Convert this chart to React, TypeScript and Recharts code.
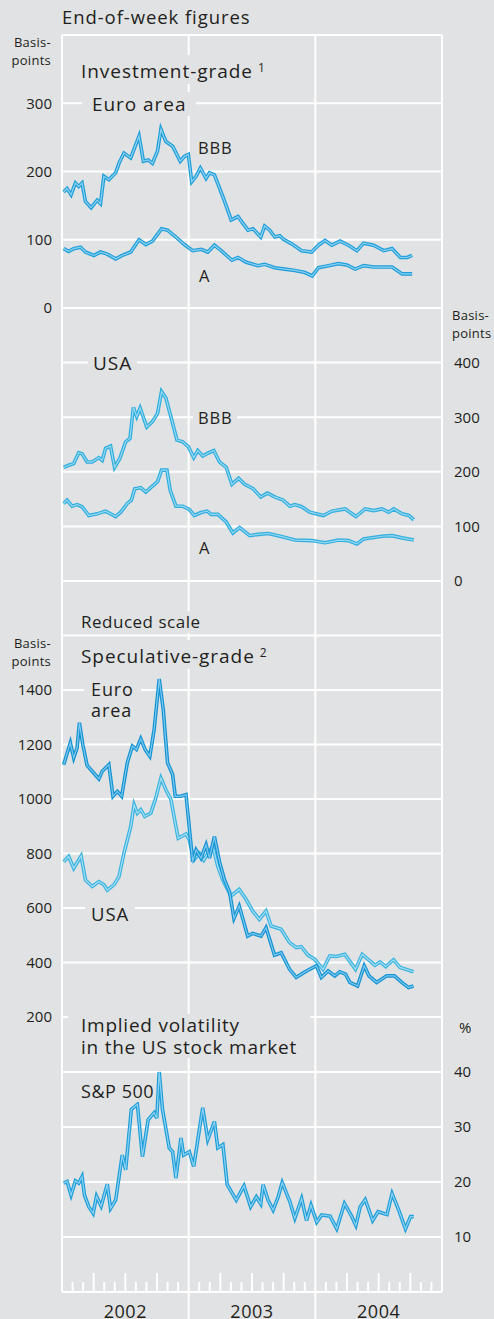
import React from "react";
import { LineChart, Line, XAxis, YAxis, CartesianGrid, ReferenceLine } from "recharts";

// x values are months since the start of 2002
const yearLabels = ["2002", "2003", "2004"];
const yearLines = [0, 12, 24, 36];
const monthTicks = Array.from({ length: 37 }, (_, i) => i);

const euroBBB: [number, number][] = [
  [0.16, 170], [0.48, 175], [0.86, 166], [1.27, 183], [1.59, 178], [1.9, 183], [2.22, 156], [2.76, 147],
  [3.33, 158], [3.65, 153], [3.97, 193], [4.44, 188], [5.08, 198], [5.4, 212], [5.87, 227], [6.51, 220],
  [7.3, 252], [7.71, 215], [8.16, 217], [8.57, 212], [9.05, 230], [9.37, 262], [9.84, 244], [10.48, 237],
  [11.2, 215], [11.59, 222], [11.97, 225], [12.29, 185], [12.7, 193], [13.11, 205], [13.65, 190], [13.97, 198],
  [14.44, 195], [15.24, 163], [16.03, 129], [16.67, 134], [17.14, 124], [17.62, 114], [18.1, 116], [18.83, 104],
  [19.2, 120], [19.68, 114], [20.16, 104], [20.63, 106], [20.95, 101], [21.75, 94], [22.7, 84], [23.65, 82],
  [24.29, 92], [24.92, 99], [25.56, 92], [26.35, 98], [27.14, 92], [27.94, 84], [28.57, 95], [29.52, 92],
  [30.48, 84], [31.27, 87], [32.06, 74], [32.7, 74], [33.17, 77],
];
const euroA: [number, number][] = [
  [0.16, 87], [0.63, 83], [1.11, 87], [1.75, 89], [2.22, 82], [3.02, 77], [3.65, 82], [4.29, 79],
  [5.08, 72], [5.71, 77], [6.51, 82], [7.3, 100], [7.94, 93], [8.57, 98], [9.43, 116], [10, 114],
  [10.79, 104], [11.59, 93], [12.38, 84], [13.17, 86], [13.81, 82], [14.44, 92], [15.08, 84], [16.1, 70],
  [16.67, 74], [17.46, 67], [18.57, 62], [19.2, 64], [20.16, 59], [21.11, 57], [22.06, 55], [23.02, 52],
  [23.71, 47], [24.29, 59], [25.24, 62], [26.19, 65], [26.98, 63], [27.78, 57], [28.57, 62], [29.52, 60],
  [30.48, 60], [31.27, 60], [32.22, 50], [33.17, 50],
];
const usBBB: [number, number][] = [
  [0.16, 208], [0.63, 212], [1.11, 215], [1.59, 235], [1.9, 233], [2.38, 218], [2.86, 218], [3.49, 226],
  [3.81, 221], [4.13, 243], [4.6, 247], [4.98, 208], [5.49, 225], [6.03, 255], [6.44, 261], [6.76, 318],
  [7.08, 301], [7.4, 317], [8.03, 282], [8.57, 292], [9.05, 307], [9.43, 347], [9.84, 335], [10.48, 289],
  [10.89, 258], [11.43, 255], [11.97, 246], [12.48, 226], [12.86, 239], [13.33, 229], [13.81, 234], [14.38, 239],
  [14.92, 218], [15.56, 208], [16.1, 177], [16.73, 188], [17.3, 177], [18.1, 169], [18.83, 154], [19.46, 161],
  [20.16, 154], [20.95, 148], [21.59, 137], [22.06, 140], [22.7, 136], [23.49, 126], [24.76, 120], [25.56, 128],
  [26.83, 132], [27.84, 118], [28.73, 132], [29.52, 129], [30.32, 132], [30.95, 126], [31.43, 132], [32.22, 123],
  [32.86, 120], [33.33, 112],
];
const usA: [number, number][] = [
  [0.16, 142], [0.48, 148], [0.95, 137], [1.43, 140], [1.9, 136], [2.54, 120], [3.33, 123], [4.13, 128],
  [5.08, 118], [5.56, 126], [6.19, 142], [6.57, 148], [6.89, 169], [7.46, 171], [7.94, 163], [8.41, 171],
  [9.05, 182], [9.43, 203], [9.94, 203], [10.25, 166], [10.79, 137], [11.43, 137], [12.06, 131], [12.54, 120],
  [13.11, 125], [13.75, 128], [14.13, 122], [14.76, 122], [15.56, 108], [16.19, 88], [16.83, 98], [17.78, 83],
  [18.41, 85], [19.52, 87], [20.48, 83], [22.06, 75], [23.65, 74], [24.92, 70], [26.19, 75], [27.14, 74],
  [27.94, 68], [28.57, 77], [30.32, 82], [31.27, 83], [32.22, 79], [33.33, 75],
];
const specEuro: [number, number][] = [
  [0.16, 1126], [0.79, 1206], [1.11, 1151], [1.43, 1188], [1.65, 1280], [1.97, 1200], [2.38, 1123], [2.86, 1102],
  [3.49, 1074], [3.81, 1102], [4.44, 1126], [4.83, 1010], [5.24, 1028], [5.65, 1010], [6.19, 1133], [6.67, 1194],
  [7.05, 1182], [7.46, 1221], [7.87, 1182], [8.32, 1157], [8.73, 1255], [9.21, 1440], [9.59, 1329], [10, 1133],
  [10.48, 1090], [10.73, 1010], [11.27, 1010], [11.75, 1016], [12.38, 770], [12.7, 813], [13.17, 783], [13.65, 832],
  [13.97, 783], [14.44, 862], [14.92, 770], [15.4, 703], [15.87, 660], [16.29, 562], [16.79, 607], [17.59, 497],
  [18.06, 507], [18.86, 497], [19.33, 528], [20.13, 427], [20.76, 436], [21.56, 375], [22.19, 345], [22.83, 361],
  [23.46, 375], [24.1, 388], [24.57, 345], [25.21, 369], [25.84, 351], [26.32, 366], [26.86, 357], [27.27, 327],
  [28, 314], [28.63, 388], [29.08, 351], [29.81, 327], [30.76, 351], [31.49, 351], [32.19, 327], [32.83, 308],
  [33.3, 314],
];
const specUSA: [number, number][] = [
  [0.16, 770], [0.63, 789], [1.11, 746], [1.81, 791], [2.22, 703], [2.86, 679], [3.49, 697], [3.97, 685],
  [4.29, 666], [4.92, 685], [5.4, 715], [5.87, 801], [6.51, 899], [6.83, 979], [7.14, 948], [7.46, 961],
  [7.84, 936], [8.41, 948], [8.89, 1004], [9.37, 1077], [9.84, 1034], [10.32, 998], [10.79, 899], [11.01, 856],
  [11.75, 872], [12.06, 850], [12.48, 776], [13.02, 801], [13.43, 776], [13.81, 801], [14.29, 826], [14.76, 752],
  [15.24, 703], [16, 644], [16.79, 668], [17.43, 632], [18.06, 589], [18.7, 558], [19.33, 589], [19.81, 534],
  [20.76, 522], [21.56, 473], [22.19, 455], [22.67, 458], [23.3, 427], [23.94, 412], [24.73, 375], [25.37, 424],
  [26, 422], [26.79, 430], [27.81, 375], [28.44, 430], [29.65, 390], [30.13, 402], [30.67, 385], [31.4, 410],
  [32.03, 382], [33.3, 366],
];
const vix: [number, number][] = [
  [0.16, 19.8], [0.48, 20.1], [0.86, 17.6], [1.27, 20.2], [1.59, 19.8], [1.9, 21], [2.13, 17.6], [2.54, 15.5],
  [2.95, 14.3], [3.27, 17.4], [3.71, 15.6], [4.29, 19.6], [4.6, 15.2], [5.08, 16.7], [5.71, 24.9], [6.03, 22.2],
  [6.57, 33.2], [7.14, 34.1], [7.62, 24.6], [8.16, 31.3], [8.73, 32.6], [8.98, 31.6], [9.21, 40], [9.52, 33.2],
  [10.16, 26.2], [10.48, 25.5], [10.79, 20.7], [11.27, 28], [11.52, 24.9], [12.06, 25.5], [12.48, 22.8], [12.92, 28.3],
  [13.33, 33.5], [13.81, 27.7], [14.44, 31], [14.76, 26.2], [15.24, 26.8], [15.65, 19.5], [16.51, 16.7], [17.24, 19.3],
  [17.87, 15.5], [18.41, 17.3], [18.83, 16], [19.05, 19.5], [19.52, 16.7], [20, 14.9], [20.48, 17.3], [20.86, 19.9],
  [21.59, 16.4], [22.06, 13.4], [22.7, 17], [23.17, 13], [23.59, 15.8], [24.13, 12.7], [24.6, 14], [25.4, 13.8],
  [26.03, 11.5], [26.76, 16.1], [27.46, 13.7], [27.84, 12.1], [28.25, 15.5], [28.73, 16.8], [29.43, 13], [29.94, 14.6],
  [30.79, 14.1], [31.27, 17.9], [31.9, 14.9], [32.54, 11.5], [33.02, 13.7], [33.33, 13.7],
];

const BG = "#e1e2e3";
const INK = "#231f20";
const FONT = "'Open Sans', 'Noto Sans', sans-serif";
const toRows = (s: [number, number][]) => s.map(([m, v]) => ({ m, v }));

function Cased({ data, outer, inner }: { data: [number, number][]; outer: string; inner: string }) {
  const rows = toRows(data);
  return [
    <Line key="o" data={rows} dataKey="v" type="linear" stroke={outer} strokeWidth={3.6} dot={false} isAnimationActive={false} />,
    <Line key="i" data={rows} dataKey="v" type="linear" stroke={inner} strokeWidth={1.2} dot={false} isAnimationActive={false} />,
  ];
}

const MonthTick = (props: any) => {
  const { x, y, payload } = props;
  const m = payload.value as number;
  if (m % 12 === 0) {
    if (m === 0 || m === 36) return <g />;
    return <line x1={x} x2={x} y1={y} y2={y + 28} stroke="#fff" strokeWidth={2} />;
  }
  const len = m % 3 === 0 ? 19 : 10;
  return (
    <g>
      <line x1={x} x2={x} y1={y} y2={y - len} stroke="#fff" strokeWidth={2} />
      {m % 12 === 6 && (
        <text x={x} y={y + 26} textAnchor="middle" fontSize={18} fill={INK} fontFamily={FONT} letterSpacing="0.03em">
          {yearLabels[(m - 6) / 12]}
        </text>
      )}
    </g>
  );
};

function Tag({ x, y, children, size = 16, pad = 6, align = "left", lh = 20, ls = "0.05em" }: any) {
  return (
    <div
      style={{
        position: "absolute",
        left: align === "left" ? x - pad : undefined,
        right: align === "right" ? 494 - x - pad : undefined,
        top: y,
        padding: `0 ${pad}px`,
        background: BG,
        color: INK,
        fontSize: size,
        lineHeight: `${lh}px`,
        letterSpacing: ls,
        textAlign: align,
        whiteSpace: "nowrap",
      }}
    >
      {children}
    </div>
  );
}

const tickStyle = { fontSize: 15, fill: INK, fontFamily: FONT };

function Panel({ top, plotH, domain, ticks, shown, side, children, bottom = false }: any) {
  const margin = side === "left" ? { top: 10, right: 52, bottom: bottom ? 0 : 10, left: 0 } : { top: 10, right: 0, bottom: bottom ? 0 : 10, left: 62 };
  const h = 10 + plotH + (bottom ? 27 : 10);
  return (
    <div style={{ position: "absolute", left: 0, top: top - 10 }}>
      <LineChart width={494} height={h} margin={margin}>
        <CartesianGrid vertical={false} stroke="#fff" strokeWidth={2} />
        {bottom ? (
          <XAxis dataKey="m" type="number" domain={[0, 36]} ticks={monthTicks} interval={0} height={27}
            axisLine={{ stroke: "#fff", strokeWidth: 2 }} tickLine={false} tickSize={0} tickMargin={0} tick={<MonthTick />} />
        ) : (
          <XAxis dataKey="m" type="number" domain={[0, 36]} hide />
        )}
        <YAxis orientation={side} width={side === "left" ? 62 : 52} domain={domain} ticks={ticks} interval={0}
          axisLine={false} tickLine={false} tickSize={0} tickMargin={side === "left" ? 10 : 12}
          tick={tickStyle} tickFormatter={(v: number) => (shown.includes(v) ? String(v) : "")} />
        {yearLines.map((x) => (
          <ReferenceLine key={x} x={x} stroke="#fff" strokeWidth={2} />
        ))}
        {children}
      </LineChart>
    </div>
  );
}

export default function App() {
  return (
    <div style={{ position: "absolute", left: 0, top: 0, width: 494, height: 1319, background: BG, fontFamily: FONT, overflow: "hidden" }}>
      <Panel top={35} plotH={273} domain={[0, 400]} ticks={[0, 100, 200, 300, 400]} shown={[0, 100, 200, 300]} side="left">
        {Cased({ data: euroBBB, outer: "#1f9fda", inner: "#8fd1f0" })}
        {Cased({ data: euroA, outer: "#1f9fda", inner: "#8fd1f0" })}
      </Panel>
      <Panel top={308} plotH={273} domain={[0, 500]} ticks={[0, 100, 200, 300, 400, 500]} shown={[0, 100, 200, 300, 400]} side="right">
        {Cased({ data: usBBB, outer: "#2eaede", inner: "#9ad8f2" })}
        {Cased({ data: usA, outer: "#2eaede", inner: "#9ad8f2" })}
      </Panel>
      <Panel top={581} plotH={436} domain={[200, 1800]} ticks={[200, 400, 600, 800, 1000, 1200, 1400, 1600, 1800]}
        shown={[200, 400, 600, 800, 1000, 1200, 1400]} side="left">
        {Cased({ data: specUSA, outer: "#3ab4e0", inner: "#a6ddf3" })}
        {Cased({ data: specEuro, outer: "#1593d3", inner: "#7cc8ee" })}
      </Panel>
      <Panel top={1017} plotH={275} domain={[0, 50]} ticks={[0, 10, 20, 30, 40, 50]} shown={[10, 20, 30, 40]} side="right" bottom>
        {Cased({ data: vix, outer: "#1f9fda", inner: "#8fd1f0" })}
      </Panel>

      <Tag x={62} y={5} size={18.5} pad={0} lh={24}>End-of-week figures</Tag>

      <Tag x={51} y={33} size={13} pad={2} align="right" lh={18} ls="0.02em">Basis-<br />points</Tag>
      <Tag x={81} y={55} size={19} pad={4} lh={26}>
        Investment-grade<span style={{ fontSize: 12, verticalAlign: 6, marginLeft: 5 }}>1</span>
      </Tag>
      <Tag x={92} y={92} size={19} pad={10} lh={24}>Euro area</Tag>
      <Tag x={198} y={137} size={16.5} pad={4} lh={22}>BBB</Tag>
      <Tag x={199} y={265} size={16.5} pad={4} lh={22}>A</Tag>

      <Tag x={452} y={306} size={13} pad={2} lh={18} ls="0.02em">Basis-<br />points</Tag>
      <Tag x={93} y={351} size={19} pad={5} lh={24}>USA</Tag>
      <Tag x={198} y={407} size={16.5} pad={5} lh={22}>BBB</Tag>
      <Tag x={199} y={537} size={16.5} pad={4} lh={22}>A</Tag>

      <Tag x={81} y={611} size={17} pad={0} lh={22} ls="0.03em">Reduced scale</Tag>
      <Tag x={51} y={634} size={13} pad={2} align="right" lh={18} ls="0.02em">Basis-<br />points</Tag>
      <Tag x={81} y={640} size={19} pad={4} lh={26}>
        Speculative-grade<span style={{ fontSize: 12, verticalAlign: 6, marginLeft: 5 }}>2</span>
      </Tag>
      <Tag x={91} y={679} size={18} pad={7} lh={21}>Euro<br />area</Tag>
      <Tag x={91} y={902} size={18.5} pad={6} lh={24}>USA</Tag>

      <Tag x={81} y={1014} size={19} pad={13} lh={22} ls="0.04em">Implied volatility<br />in the US stock market</Tag>
      <Tag x={459} y={1016} size={15} pad={0} lh={22}>%</Tag>
      <Tag x={81} y={1080} size={18} pad={0} lh={22} ls="0.03em">S&amp;P 500</Tag>
    </div>
  );
}
